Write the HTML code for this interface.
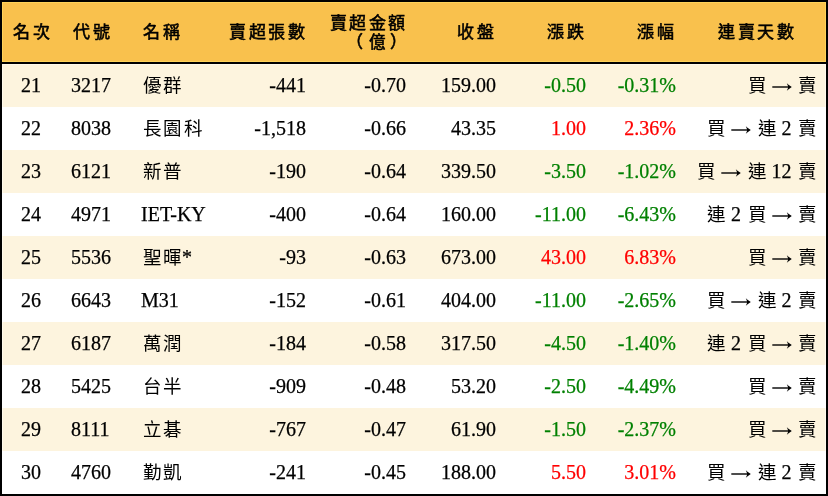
<!DOCTYPE html>
<html lang="zh-TW"><head><meta charset="utf-8"><title>table</title><style>
html,body{margin:0;padding:0;background:#fff;}
body{width:828px;height:496px;overflow:hidden;font-family:"Liberation Serif",serif;color:#000;text-spacing-trim:space-all;}
#wrap{will-change:transform;position:absolute;left:0;top:0;width:824px;height:492px;border:2px solid #000;background:#fff;}
.hd{position:absolute;left:0;top:0;width:824px;height:60px;background:#F9C14D;border-bottom:2px solid #000;box-shadow:inset 1px 1px 0 #FED25A,inset -1px -1px 0 #FED25A;}
.hd .h{position:absolute;top:1px;height:60px;line-height:60px;font-size:17px;font-weight:normal;-webkit-text-stroke:0.55px #000;letter-spacing:2.5px;white-space:nowrap;}
.hd .two{line-height:17.8px;top:13px;height:auto;text-align:right;}
.row{position:absolute;left:0;width:824px;height:43px;line-height:43px;font-size:20px;white-space:nowrap;-webkit-text-stroke:0.25px currentColor;}
.row>span{position:absolute;top:0;}
.cj{-webkit-text-stroke:0;font-size:18.5px;letter-spacing:1.5px;margin-left:1.5px;margin-right:-1.5px;}
.odd{background:#FDF4DE;box-shadow:inset 1px 0 0 #FFFAEC,inset -1px 0 0 #FFFAEC;}
.first{box-shadow:inset 1px 1px 0 #FFFAEC,inset -1px 0 0 #FFFAEC;}
.g{color:#008000;}
.r{color:#FF0000;}
.ar{display:inline-block;vertical-align:0px;fill:#000;}
.c1{left:-1px;width:60px;text-align:center;}
.c2{left:69px;}
.c3{left:139px;}
.c4{right:520px;text-align:right;}
.c5{right:420px;text-align:right;}
.c6{right:330px;text-align:right;}
.c7{right:240px;text-align:right;}
.c8{right:150px;text-align:right;}
.c9{right:9px;text-align:right;}
.hd .c1{left:0.5px;}
.hd .c2{left:71px;}
.hd .c3{left:141px;}
.hd .c4{right:518.8px;}
.hd .c5{right:418.4px;}
.hd .c6{right:329.6px;}
.hd .c7{right:239.8px;}
.hd .c8{right:150px;}
.pl{position:relative;left:-3.5px;top:1px;}
.yi{position:relative;left:0.5px;top:1px;font-size:16.5px;}
.pr{position:relative;left:1.5px;top:1px;}
.hd .c9{right:auto;left:685px;width:140px;text-align:center;}
</style></head><body><div id="wrap">
<div class="hd"><span class="h c1">名次</span><span class="h c2">代號</span><span class="h c3">名稱</span><span class="h c4">賣超張數</span><span class="h c5 two">賣超金額<br><span class="pl">（</span><span class="yi">億</span><span class="pr">）</span></span><span class="h c6">收盤</span><span class="h c7">漲跌</span><span class="h c8">漲幅</span><span class="h c9">連賣天數</span></div>
<div class="row odd first" style="top:62px"><span class="c1">21</span><span class="c2">3217</span><span class="c3"><span class="cj">優群</span></span><span class="c4">-441</span><span class="c5">-0.70</span><span class="c6">159.00</span><span class="c7 g">-0.50</span><span class="c8 g">-0.31%</span><span class="c9"><span class="cj">買</span> <svg class="ar" width="20" height="10" viewBox="0 0 20 10"><path d="M0.3 4.3H17.4V5.7H0.3Z"/><path d="M14.8 1.2Q17.3 3.6 19.8 5Q17.3 6.4 14.8 8.8Q16 6.5 16.2 5Q16 3.5 14.8 1.2Z"/></svg> <span class="cj">賣</span></span></div>
<div class="row" style="top:105px"><span class="c1">22</span><span class="c2">8038</span><span class="c3"><span class="cj">長園科</span></span><span class="c4">-1,518</span><span class="c5">-0.66</span><span class="c6">43.35</span><span class="c7 r">1.00</span><span class="c8 r">2.36%</span><span class="c9"><span class="cj">買</span> <svg class="ar" width="20" height="10" viewBox="0 0 20 10"><path d="M0.3 4.3H17.4V5.7H0.3Z"/><path d="M14.8 1.2Q17.3 3.6 19.8 5Q17.3 6.4 14.8 8.8Q16 6.5 16.2 5Q16 3.5 14.8 1.2Z"/></svg> <span class="cj">連</span> 2 <span class="cj">賣</span></span></div>
<div class="row odd" style="top:148px"><span class="c1">23</span><span class="c2">6121</span><span class="c3"><span class="cj">新普</span></span><span class="c4">-190</span><span class="c5">-0.64</span><span class="c6">339.50</span><span class="c7 g">-3.50</span><span class="c8 g">-1.02%</span><span class="c9"><span class="cj">買</span> <svg class="ar" width="20" height="10" viewBox="0 0 20 10"><path d="M0.3 4.3H17.4V5.7H0.3Z"/><path d="M14.8 1.2Q17.3 3.6 19.8 5Q17.3 6.4 14.8 8.8Q16 6.5 16.2 5Q16 3.5 14.8 1.2Z"/></svg> <span class="cj">連</span> 12 <span class="cj">賣</span></span></div>
<div class="row" style="top:191px"><span class="c1">24</span><span class="c2">4971</span><span class="c3">IET-KY</span><span class="c4">-400</span><span class="c5">-0.64</span><span class="c6">160.00</span><span class="c7 g">-11.00</span><span class="c8 g">-6.43%</span><span class="c9"><span class="cj">連</span> 2 <span class="cj">買</span> <svg class="ar" width="20" height="10" viewBox="0 0 20 10"><path d="M0.3 4.3H17.4V5.7H0.3Z"/><path d="M14.8 1.2Q17.3 3.6 19.8 5Q17.3 6.4 14.8 8.8Q16 6.5 16.2 5Q16 3.5 14.8 1.2Z"/></svg> <span class="cj">賣</span></span></div>
<div class="row odd" style="top:234px"><span class="c1">25</span><span class="c2">5536</span><span class="c3"><span class="cj">聖暉</span>*</span><span class="c4">-93</span><span class="c5">-0.63</span><span class="c6">673.00</span><span class="c7 r">43.00</span><span class="c8 r">6.83%</span><span class="c9"><span class="cj">買</span> <svg class="ar" width="20" height="10" viewBox="0 0 20 10"><path d="M0.3 4.3H17.4V5.7H0.3Z"/><path d="M14.8 1.2Q17.3 3.6 19.8 5Q17.3 6.4 14.8 8.8Q16 6.5 16.2 5Q16 3.5 14.8 1.2Z"/></svg> <span class="cj">賣</span></span></div>
<div class="row" style="top:277px"><span class="c1">26</span><span class="c2">6643</span><span class="c3">M31</span><span class="c4">-152</span><span class="c5">-0.61</span><span class="c6">404.00</span><span class="c7 g">-11.00</span><span class="c8 g">-2.65%</span><span class="c9"><span class="cj">買</span> <svg class="ar" width="20" height="10" viewBox="0 0 20 10"><path d="M0.3 4.3H17.4V5.7H0.3Z"/><path d="M14.8 1.2Q17.3 3.6 19.8 5Q17.3 6.4 14.8 8.8Q16 6.5 16.2 5Q16 3.5 14.8 1.2Z"/></svg> <span class="cj">連</span> 2 <span class="cj">賣</span></span></div>
<div class="row odd" style="top:320px"><span class="c1">27</span><span class="c2">6187</span><span class="c3"><span class="cj">萬潤</span></span><span class="c4">-184</span><span class="c5">-0.58</span><span class="c6">317.50</span><span class="c7 g">-4.50</span><span class="c8 g">-1.40%</span><span class="c9"><span class="cj">連</span> 2 <span class="cj">買</span> <svg class="ar" width="20" height="10" viewBox="0 0 20 10"><path d="M0.3 4.3H17.4V5.7H0.3Z"/><path d="M14.8 1.2Q17.3 3.6 19.8 5Q17.3 6.4 14.8 8.8Q16 6.5 16.2 5Q16 3.5 14.8 1.2Z"/></svg> <span class="cj">賣</span></span></div>
<div class="row" style="top:363px"><span class="c1">28</span><span class="c2">5425</span><span class="c3"><span class="cj">台半</span></span><span class="c4">-909</span><span class="c5">-0.48</span><span class="c6">53.20</span><span class="c7 g">-2.50</span><span class="c8 g">-4.49%</span><span class="c9"><span class="cj">買</span> <svg class="ar" width="20" height="10" viewBox="0 0 20 10"><path d="M0.3 4.3H17.4V5.7H0.3Z"/><path d="M14.8 1.2Q17.3 3.6 19.8 5Q17.3 6.4 14.8 8.8Q16 6.5 16.2 5Q16 3.5 14.8 1.2Z"/></svg> <span class="cj">賣</span></span></div>
<div class="row odd" style="top:406px"><span class="c1">29</span><span class="c2">8111</span><span class="c3"><span class="cj">立碁</span></span><span class="c4">-767</span><span class="c5">-0.47</span><span class="c6">61.90</span><span class="c7 g">-1.50</span><span class="c8 g">-2.37%</span><span class="c9"><span class="cj">買</span> <svg class="ar" width="20" height="10" viewBox="0 0 20 10"><path d="M0.3 4.3H17.4V5.7H0.3Z"/><path d="M14.8 1.2Q17.3 3.6 19.8 5Q17.3 6.4 14.8 8.8Q16 6.5 16.2 5Q16 3.5 14.8 1.2Z"/></svg> <span class="cj">賣</span></span></div>
<div class="row" style="top:449px"><span class="c1">30</span><span class="c2">4760</span><span class="c3"><span class="cj">勤凱</span></span><span class="c4">-241</span><span class="c5">-0.45</span><span class="c6">188.00</span><span class="c7 r">5.50</span><span class="c8 r">3.01%</span><span class="c9"><span class="cj">買</span> <svg class="ar" width="20" height="10" viewBox="0 0 20 10"><path d="M0.3 4.3H17.4V5.7H0.3Z"/><path d="M14.8 1.2Q17.3 3.6 19.8 5Q17.3 6.4 14.8 8.8Q16 6.5 16.2 5Q16 3.5 14.8 1.2Z"/></svg> <span class="cj">連</span> 2 <span class="cj">賣</span></span></div>
</div></body></html>
